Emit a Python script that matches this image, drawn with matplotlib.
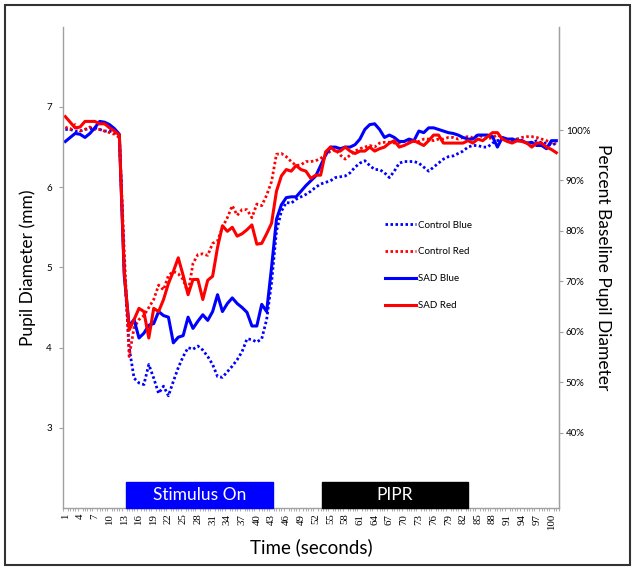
import matplotlib
matplotlib.use("Agg")
import matplotlib.pyplot as plt
from matplotlib.patches import Rectangle
from matplotlib.ticker import FixedLocator, FuncFormatter, MultipleLocator

# --- Data (pupil diameter in mm, one value per second) ---
seconds = list(range(1, 102))

control_blue = [
    6.72, 6.72, 6.70, 6.70, 6.72, 6.73, 6.74, 6.72, 6.70, 6.70,
    6.68, 6.65, 5.00, 4.00, 3.62, 3.56, 3.54, 3.79, 3.62, 3.43,
    3.52, 3.40, 3.58, 3.75, 3.89, 4.00, 3.98, 4.02, 3.97, 3.89,
    3.79, 3.64, 3.63, 3.70, 3.77, 3.85, 3.95, 4.11, 4.10, 4.07,
    4.11, 4.35, 4.81, 5.45, 5.70, 5.81, 5.80, 5.85, 5.88, 5.91,
    5.95, 6.00, 6.04, 6.06, 6.08, 6.12, 6.13, 6.14, 6.18, 6.25,
    6.30, 6.33, 6.27, 6.22, 6.22, 6.18, 6.12, 6.20, 6.30, 6.32,
    6.32, 6.32, 6.30, 6.25, 6.20, 6.25, 6.30, 6.35, 6.38, 6.39,
    6.42, 6.45, 6.50, 6.52, 6.52, 6.50, 6.50, 6.55, 6.58, 6.60,
    6.58, 6.58, 6.60, 6.58, 6.55, 6.55, 6.58, 6.55, 6.55, 6.52,
    6.55,
]
control_red = [
    6.75, 6.72, 6.78, 6.70, 6.72, 6.75, 6.72, 6.72, 6.70, 6.68,
    6.66, 6.62, 5.20, 3.89, 4.25, 4.35, 4.40, 4.50, 4.60, 4.78,
    4.72, 4.90, 4.95, 4.92, 4.85, 4.68, 5.05, 5.16, 5.17, 5.15,
    5.30, 5.33, 5.50, 5.62, 5.77, 5.65, 5.72, 5.72, 5.62, 5.79,
    5.77, 5.90, 6.07, 6.41, 6.42, 6.38, 6.32, 6.27, 6.28, 6.32,
    6.32, 6.33, 6.36, 6.40, 6.45, 6.47, 6.40, 6.35, 6.40, 6.45,
    6.48, 6.50, 6.52, 6.50, 6.55, 6.56, 6.56, 6.55, 6.55, 6.57,
    6.58, 6.57, 6.57, 6.60, 6.60, 6.58, 6.60, 6.60, 6.62, 6.62,
    6.60, 6.62, 6.63, 6.62, 6.65, 6.63, 6.60, 6.62, 6.65, 6.62,
    6.58, 6.60, 6.60, 6.62, 6.63, 6.63, 6.62, 6.60, 6.58, 6.55,
    6.55,
]
sad_blue = [
    6.57, 6.62, 6.67, 6.66, 6.62, 6.67, 6.74, 6.82, 6.81, 6.78,
    6.73, 6.66, 4.90, 4.27, 4.35, 4.12, 4.18, 4.28, 4.30, 4.45,
    4.40, 4.38, 4.06, 4.13, 4.15, 4.38, 4.24, 4.33, 4.41, 4.34,
    4.45, 4.66, 4.45, 4.55, 4.62, 4.55, 4.50, 4.44, 4.27, 4.27,
    4.54, 4.45, 5.00, 5.60, 5.78, 5.87, 5.88, 5.88, 5.95, 6.02,
    6.08, 6.14, 6.27, 6.40, 6.50, 6.50, 6.48, 6.50, 6.50, 6.53,
    6.60, 6.72, 6.78, 6.79, 6.72, 6.62, 6.65, 6.62, 6.57, 6.57,
    6.60, 6.58, 6.70, 6.68, 6.74, 6.74, 6.72, 6.70, 6.68, 6.67,
    6.65, 6.62, 6.60, 6.60, 6.65, 6.65, 6.65, 6.63, 6.50, 6.62,
    6.60, 6.60, 6.58, 6.58, 6.55, 6.56, 6.52, 6.52, 6.48, 6.58,
    6.58,
]
sad_red = [
    6.88, 6.81, 6.74, 6.75, 6.82, 6.82, 6.82, 6.79, 6.79, 6.74,
    6.70, 6.65, 4.95, 4.22, 4.35, 4.49, 4.45, 4.12, 4.49, 4.45,
    4.60, 4.80, 4.95, 5.12, 4.90, 4.66, 4.85, 4.85, 4.60, 4.84,
    4.89, 5.25, 5.52, 5.45, 5.50, 5.39, 5.42, 5.47, 5.53, 5.29,
    5.30, 5.42, 5.55, 5.95, 6.14, 6.22, 6.20, 6.27, 6.22, 6.20,
    6.11, 6.15, 6.15, 6.44, 6.50, 6.45, 6.45, 6.50, 6.45, 6.42,
    6.45, 6.45, 6.50, 6.45, 6.48, 6.50, 6.55, 6.58, 6.50, 6.52,
    6.55, 6.58, 6.55, 6.52, 6.58, 6.65, 6.65, 6.55, 6.55, 6.55,
    6.55, 6.55, 6.58, 6.55, 6.60, 6.58, 6.63, 6.68, 6.68, 6.60,
    6.57, 6.55, 6.58, 6.57, 6.55, 6.50, 6.55, 6.55, 6.50, 6.47,
    6.43,
]

x_tick_labels = list(range(1, 101, 3))
mm_ticks = [3, 4, 5, 6, 7]
pct_ticks = [40, 50, 60, 70, 80, 90, 100]

# --- Figure ---
BLUE = "#0000FF"
RED = "#FF0000"
AXIS_GREY = "#A0A0A0"
FONT = "Lato"

fig = plt.figure(figsize=(6.35, 5.69), dpi=100)
ax = fig.add_axes([0.099, 0.107, 0.781, 0.846])

dot = (0, (0.9, 0.9))
ax.plot(seconds, control_blue, color=BLUE, lw=2, ls=dot, label="Control Blue")
ax.plot(seconds, control_red, color=RED, lw=2, ls=dot, label="Control Red")
ax.plot(seconds, sad_blue, color=BLUE, lw=2.2, label="SAD Blue")
ax.plot(seconds, sad_red, color=RED, lw=2.2, label="SAD Red")

ax.set_xlim(0.5, 101.5)
ax.set_ylim(2, 8)

# stimulus / PIPR bars
ax.add_patch(Rectangle((13.4, 2.0), 29.8, 0.33, color=BLUE, zorder=3, clip_on=False))
ax.text(28.3, 2.16, "Stimulus On", color="white", ha="center", va="center",
        fontsize=12.5, family=FONT, zorder=4)
ax.add_patch(Rectangle((53.2, 2.0), 29.8, 0.33, color="black", zorder=3, clip_on=False))
ax.text(68.1, 2.16, "PIPR", color="white", ha="center", va="center",
        fontsize=12.5, family=FONT, zorder=4)

# spines and ticks
ax.spines["top"].set_visible(False)
for side in ("left", "right", "bottom"):
    ax.spines[side].set_color(AXIS_GREY)
    ax.spines[side].set_linewidth(1)

ax.xaxis.set_major_locator(FixedLocator(x_tick_labels))
ax.set_xticklabels([str(v) for v in x_tick_labels], rotation=90, fontsize=7.8,
                   family="Liberation Serif")
ax.xaxis.set_minor_locator(MultipleLocator(0.5))
ax.tick_params(axis="x", which="major", length=0, pad=4)
ax.tick_params(axis="x", which="minor", length=2, color=AXIS_GREY, width=0.6)

ax.yaxis.set_major_locator(FixedLocator(mm_ticks))
ax.set_yticklabels([str(v) for v in mm_ticks], fontsize=7, family=FONT)
ax.tick_params(axis="y", length=3, color=AXIS_GREY, pad=5)

ax2 = ax.twinx()
ax2.set_ylim(25, 120.5)
ax2.yaxis.set_major_locator(FixedLocator(pct_ticks))
ax2.yaxis.set_major_formatter(FuncFormatter(lambda v, p: f"{v:.0f}%"))
for lab in ax2.get_yticklabels():
    lab.set_family(FONT)
ax2.tick_params(axis="y", length=3, color=AXIS_GREY, labelsize=7, pad=2)
ax2.spines["top"].set_visible(False)
ax2.spines["right"].set_color(AXIS_GREY)
ax2.spines["left"].set_visible(False)
ax2.spines["bottom"].set_visible(False)

ax.set_ylabel("Pupil Diameter (mm)", fontsize=12.5, family=FONT, labelpad=7)
ax2.set_ylabel("Percent Baseline Pupil Diameter", fontsize=12.5, family=FONT,
               rotation=270, labelpad=15)
ax.set_xlabel("Time (seconds)", fontsize=13.5, family=FONT, labelpad=6)

leg = ax.legend(loc="upper left", bbox_to_anchor=(0.598, 0.621),
                bbox_transform=fig.transFigure, frameon=False,
                prop={"family": FONT, "size": 7}, handlelength=3.2,
                handletextpad=0.2, labelspacing=1.85, borderpad=0)

# outer border
fig.patches.append(Rectangle((0.008, 0.007), 0.984, 0.985, transform=fig.transFigure,
                             fill=False, edgecolor="#333333", lw=1.5))

fig.savefig("out.png", dpi=100)
